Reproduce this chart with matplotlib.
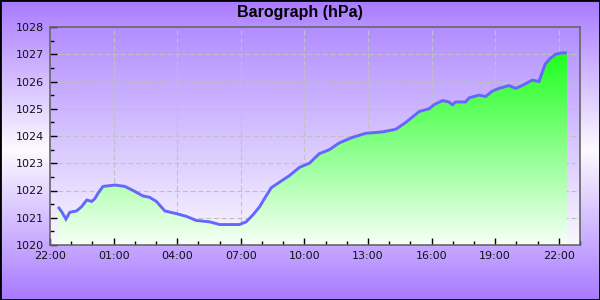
import numpy as np
import pandas as pd
from matplotlib import pyplot as plt
import matplotlib.dates as mdates
from matplotlib.patches import Rectangle

# minutes after 22:00 and barometric pressure (hPa)
minutes = [23, 34, 45, 56, 75, 89, 104, 118, 127, 136,
           150, 184, 212, 235, 263, 282, 301, 325, 358, 386,
           414, 452, 480, 536, 555, 574, 593, 607, 626, 649,
           678, 706, 734, 762, 791, 819, 856, 894, 941, 979,
           1007, 1026, 1045, 1073, 1087, 1111, 1129, 1139, 1148, 1176,
           1186, 1214, 1233, 1252, 1271, 1299, 1318, 1336, 1365, 1384,
           1392, 1402, 1416, 1431, 1448, 1463]
pressure = [1021.4, 1021.2, 1020.95, 1021.2, 1021.25, 1021.4, 1021.65, 1021.6, 1021.7, 1021.9,
            1022.15, 1022.2, 1022.15, 1022.0, 1021.8, 1021.75, 1021.6, 1021.25, 1021.15, 1021.05,
            1020.9, 1020.85, 1020.75, 1020.75, 1020.85, 1021.1, 1021.4, 1021.7, 1022.1, 1022.3,
            1022.55, 1022.85, 1023.0, 1023.35, 1023.5, 1023.75, 1023.95, 1024.1, 1024.15, 1024.25,
            1024.5, 1024.7, 1024.9, 1025.0, 1025.15, 1025.3, 1025.25, 1025.15, 1025.25, 1025.25,
            1025.4, 1025.5, 1025.45, 1025.65, 1025.75, 1025.85, 1025.75, 1025.85, 1026.05, 1026.0,
            1026.3, 1026.65, 1026.85, 1027.0, 1027.05, 1027.05]

y_min, y_max = 1020, 1028
base = pd.Timestamp('2024-01-01 22:00')
times = base + pd.to_timedelta(minutes, unit='min')
tnum = mdates.date2num(times)
x0 = mdates.date2num(base)
x1 = mdates.date2num(base + pd.Timedelta(hours=25))

def vgrad(top, bottom, n=256):
    '''vertical gradient image, first row = top'''
    t = np.linspace(0, 1, n)[:, None]
    top = np.array(top) / 255.0
    bottom = np.array(bottom) / 255.0
    img = top[None, :] * (1 - t) + bottom[None, :] * t
    return img[:, None, :]

fig = plt.figure(figsize=(6, 3), dpi=100)

# figure background: purple at top and bottom, white in the middle
bg = fig.add_axes([0, 0, 1, 1], zorder=-5)
tt = np.abs(np.linspace(-1, 1, 300))[:, None]
purple = np.array([168, 122, 255]) / 255.0
white = np.array([252, 250, 255]) / 255.0
img = white[None, :] * (1 - tt) + purple[None, :] * tt
bg.imshow(img[:, None, :], aspect='auto', extent=[0, 1, 0, 1])
bg.add_patch(Rectangle((0, 0), 1, 1, transform=bg.transAxes, fill=False,
                       edgecolor='black', lw=2, clip_on=True))
bg.set_axis_off()

ax = fig.add_axes([50 / 600, 55 / 300, 530 / 600, 218 / 300])
ax.set_facecolor('none')

# plot area background
ax.imshow(vgrad((178, 142, 255), (250, 248, 255)), aspect='auto',
          extent=[x0, x1, y_min, y_max], zorder=0)

# grid
for y in range(y_min + 1, y_max):
    ax.axhline(y, color='#c0c0c0', lw=0.8, ls=(0, (4.5, 2.5)), zorder=0.5)
for h in range(3, 25, 3):
    ax.axvline(mdates.date2num(base + pd.Timedelta(hours=h)), color='#c0c0c0',
               lw=0.8, ls=(0, (4.5, 2.5)), zorder=0.5)

# filled area with green gradient
poly = ax.fill_between(tnum, pressure, y_min, color='none', lw=0)
fill = ax.imshow(vgrad((0, 255, 0), (248, 255, 248)), aspect='auto',
                 extent=[x0, x1, y_min, y_max], zorder=1)
fill.set_clip_path(poly.get_paths()[0], transform=ax.transData)

ax.plot(tnum, pressure, color='#6666fa', lw=2.1, zorder=2,
        solid_joinstyle='miter', solid_capstyle='butt')

ax.set_xlim(x0, x1)
ax.set_ylim(y_min, y_max)

ax.xaxis.set_major_locator(mdates.HourLocator(byhour=[22, 1, 4, 7, 10, 13, 16, 19]))
ax.xaxis.set_minor_locator(mdates.HourLocator())
ax.xaxis.set_major_formatter(mdates.DateFormatter('%H:%M'))
ax.set_yticks(range(y_min, y_max + 1))
ax.set_yticks(np.arange(y_min + 0.5, y_max, 1.0), minor=True)

ax.tick_params(which='both', direction='in', colors='black', labelsize=8,
               labelcolor='#111111', width=1.0)
ax.tick_params(which='major', length=5)
ax.tick_params(which='minor', length=3)
ax.tick_params(axis='x', pad=4)
ax.tick_params(axis='y', pad=4)

for s in ax.spines.values():
    s.set_color('#666666')
    s.set_linewidth(1.2)
    s.set_zorder(3)

fig.text(0.5, 1 - 13 / 300, 'Barograph (hPa)', ha='center', va='center',
         fontsize=11.5, fontweight='bold', family='Liberation Sans')

fig.savefig('out.png', dpi=100)
